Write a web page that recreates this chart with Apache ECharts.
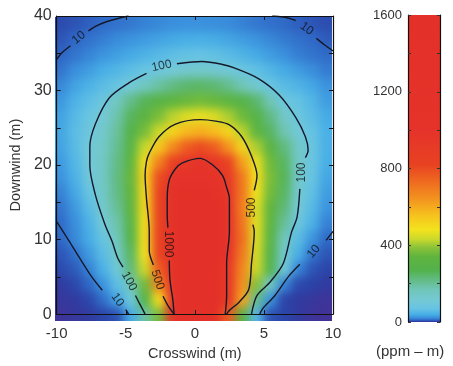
<!DOCTYPE html>
<html>
<head>
<meta charset="utf-8">
<script src="https://cdn.jsdelivr.net/npm/echarts@6/dist/echarts.min.js"></script>
<style>
html,body{margin:0;padding:0;background:#fff;overflow:hidden;}
#wrap{position:relative;width:453px;height:366px;}
#clip{position:absolute;left:55px;top:17px;width:277px;height:304px;overflow:hidden;}
#heat{position:absolute;left:-25px;top:-25px;width:327px;height:354px;filter:blur(5px);}
#chart{position:absolute;left:0;top:0;width:453px;height:366px;}
</style>
</head>
<body>
<div id="wrap">
  <div id="clip"><div id="heat"></div></div>
  <div id="chart"></div>
</div>
<script>
// ---------------- DATA ----------------
const crosswind = [-9.5,-8.5,-7.5,-6.5,-5.5,-4.5,-3.5,-2.5,-1.5,-0.5,0.5,1.5,2.5,3.5,4.5,5.5,6.5,7.5,8.5,9.5];
const downwind = [1,3,5,7,9,11,13,15,17,19,21,23,25,27,29,31,33,35,37,39];
// concentration (ppm-m), rows = downwind (bottom to top), columns = crosswind
const conc = [
  [1.5,2,2.5,4,6,38,189,367,1050,1700,1900,1500,770,313,52,6,4,2.5,1.5,1.2],
  [2,2.5,4.5,12,34,95,270,490,1100,1700,1900,1600,935,613,211,25,4,2.5,2,1.5],
  [2.5,4.5,10,25,63,170,360,673,1150,1700,1900,1700,941,647,382,147,19,5,3.5,2.5],
  [5,8,18,43,100,230,440,760,1200,1800,2000,1800,944,667,433,267,100,19,7,4],
  [7,13,28,60,140,250,480,821,1250,1800,2000,1800,1000,697,445,280,131,42,14,7],
  [10,20,39,76,160,270,490,840,1250,1800,2000,1800,1030,719,456,300,159,60,26,11],
  [11,22,45,110,180,290,485,821,1250,1800,2000,1800,1000,706,461,325,200,90,45,18],
  [14,28,58,130,200,320,500,833,1250,1700,1900,1700,1000,688,456,340,230,110,55,25],
  [18,36,75,140,215,340,505,828,1200,1500,1600,1450,950,700,478,360,250,125,65,30],
  [24,45,98,145,220,345,520,797,1030,1120,1150,1090,913,696,489,370,260,135,75,35],
  [29,52,105,145,215,330,495,680,850,955,990,950,820,620,470,355,250,140,80,40],
  [33,58,102,140,205,295,430,540,660,760,800,760,640,510,410,315,225,140,80,42],
  [35,60,92,130,195,280,365,435,515,570,590,565,510,420,330,250,175,105,70,42],
  [33,55,80,115,180,255,320,370,420,455,470,450,410,355,290,220,140,90,60,38],
  [27,45,62,88,150,215,260,300,330,350,360,350,325,290,240,170,90,68,50,30],
  [20,33,45,60,78,110,150,190,220,240,245,235,210,170,120,80,58,48,36,24],
  [14,22,30,40,50,62,75,92,110,125,130,122,105,85,65,50,38,30,22,16],
  [9.5,14,19,25,31,38,46,55,63,68,70,66,58,48,38,30,23,17,14,11],
  [7,10,13,17,21,25,29,33,37,40,41,39,35,30,25,20,16,13,10.5,8],
  [5,6.5,8.5,10.5,13,15,18,20,22,23,23,22,21,18,15,12.5,10.5,8.5,7,5.5]
];
// contour lines (segments, broken where labels sit)
const contour10 = [
  [[-10,34.2],[-9.6,35.1],[-9.0,36.0]],
  [[-7.7,38.0],[-7.2,38.6],[-6.3,39.3],[-4.8,40]],
  [[5.6,40],[6.6,39.8],[7.3,39.4]],
  [[8.8,37.0],[9.4,36.1],[10,35.3]],
  [[-10,12.4],[-9.1,9.8],[-8.4,7.7],[-7.5,5.1],[-6.7,3.2]],
  [[-5.0,0.6],[-4.8,0]],
  [[4.7,0],[4.9,0.7],[5.8,2.5],[6.8,5.1],[7.6,6.7]],
  [[9.5,9.9],[10,11.1]]
];
const contour100 = [
  [[-3.6,0],[-4.0,1.4],[-4.3,2.5]],
  [[-5.2,6.3],[-5.6,7.6],[-6.0,9.8],[-6.5,12],[-7.2,16],[-7.6,19.9],[-7.6,22.5],[-7.2,25.5],[-6.2,29],[-4.8,31],[-3.5,32.3]],
  [[-1.3,33.6],[0.5,33.9],[2.0,33.5],[2.9,33],[4.6,31.6],[6.1,29.4],[7.3,26.4],[8.0,23.8],[8.2,22],[8.0,21.0]],
  [[7.6,16.8],[7.4,13],[7.0,11],[6.4,6.8],[5.4,4.2],[4.5,2.5],[4.1,0]]
];
const contour500 = [
  [[-1.5,0],[-1.9,1.0],[-2.3,2.4]],
  [[-3.0,6.6],[-3.3,8.5],[-3.3,11.1],[-3.5,15.5],[-3.6,18.6],[-3.5,20.5],[-3.3,21.6],[-2.6,23.8],[-1.4,25.5],[0.4,26.1],[1.5,25.9],[2.5,25.4],[3.4,23.8],[4.1,21.2],[4.5,18.6],[4.3,16.6]],
  [[4.2,12.0],[4.3,11.1],[4.1,6.8],[3.9,3.3],[3.2,1.6],[2.5,0.5],[2.3,0]]
];
const contour1000 = [
  [[-1.5,0],[-1.6,2],[-1.8,4.6],[-1.85,7.2]],
  [[-1.95,11.6],[-2.0,13.3],[-2.0,15.5],[-1.85,18.0],[-1.4,19.5],[-0.9,20.3],[0.4,20.9],[1.3,20.0],[2.0,18.6],[2.3,17.0],[2.5,15.5],[2.5,11],[2.3,6.8],[2.3,2.5],[2.2,0]]
];
// contour labels: [x, y, text, angle]
const contourLabels = [
  [-8.4,37.1,'10',40],
  [8.1,38.3,'10',-35],
  [-5.6,1.9,'10',-55],
  [8.6,8.4,'10',50],
  [-2.4,33.3,'100',12],
  [-4.75,4.4,'100',-62],
  [7.75,19.0,'100',90],
  [-2.7,4.6,'500',-72],
  [4.1,14.3,'500',90],
  [-1.9,9.4,'1000',-90]
];
const xTicks = [-10, 10, 5];   // min, max, step
const yTicks = [0, 40, 5];
const cbarTicks = [0, 1600, 200];

// ---------------- STYLE ----------------
const FONT = '"Liberation Sans", Arial, Helvetica, sans-serif';
const colorStops = [
  [0,'#50298e'],[3,'#2b3fa4'],[10,'#2f68c6'],[22,'#3a8fdc'],[40,'#48afe6'],
  [70,'#66c3e3'],[110,'#74c9d6'],[170,'#70c6b8'],[220,'#62bb84'],[270,'#53b24c'],
  [340,'#5fb43e'],[390,'#8cc338'],[430,'#c8d82c'],[480,'#f2e31e'],[550,'#f6c51e'],
  [640,'#f3941f'],[740,'#ee6620'],[820,'#e84222'],[1000,'#e5332a'],[1600,'#e33028']
];
function hex2rgb(h){return [parseInt(h.substr(1,2),16),parseInt(h.substr(3,2),16),parseInt(h.substr(5,2),16)];}
const stopRGB = colorStops.map(s=>[s[0],hex2rgb(s[1])]);
function colorFor(v){
  if (v <= stopRGB[0][0]) return colorStops[0][1];
  for (let i=1;i<stopRGB.length;i++){
    if (v <= stopRGB[i][0]){
      const a=stopRGB[i-1], b=stopRGB[i];
      const t=(v-a[0])/(b[0]-a[0]);
      const c=a[1].map((ch,k)=>Math.round(ch+(b[1][k]-ch)*t));
      return 'rgb('+c.join(',')+')';
    }
  }
  return colorStops[colorStops.length-1][1];
}

const cellData = [];
downwind.forEach((y,i)=>crosswind.forEach((x,j)=>cellData.push([x,y,conc[i][j]])));
const halfX = (crosswind[1]-crosswind[0])/2;
const halfY = (downwind[1]-downwind[0])/2;
const xFirst = crosswind[0], xLast = crosswind[crosswind.length-1];
const yFirst = downwind[0], yLast = downwind[downwind.length-1];

// ---------- heat layer (soft shading, same scales as the plot) ----------
const PAD = 24;
const heat = echarts.init(document.getElementById('heat'), null, {renderer:'canvas'});
heat.setOption({
  animation:false,
  grid:{left:PAD, top:PAD, width:279, height:306},
  xAxis:{type:'value', min:xTicks[0], max:xTicks[1], show:false},
  yAxis:{type:'value', min:yTicks[0], max:yTicks[1], show:false},
  series:[{
    type:'custom', silent:true, clip:false, data:cellData,
    renderItem:function(params, api){
      const x=api.value(0), y=api.value(1), v=api.value(2);
      const p0=api.coord([x-halfX,y-halfY]);
      const p1=api.coord([x+halfX,y+halfY]);
      let l=p0[0], r=p1[0], t=p1[1], b=p0[1];
      if (x===xFirst) l-=PAD; if (x===xLast) r+=PAD;
      if (y===yFirst) b+=PAD; if (y===yLast) t-=PAD;
      return {type:'rect', shape:{x:l, y:t, width:r-l+0.7, height:b-t+0.7}, style:{fill:colorFor(v)}};
    }
  }]
});

// ---------- main chart ----------
const chart = echarts.init(document.getElementById('chart'), null, {renderer:'canvas'});
const lineColor = '#15192a';
const series = [];
[contour10, contour100, contour500, contour1000].forEach(c=>{
  c.forEach(seg=>{
    series.push({type:'line', xAxisIndex:0, yAxisIndex:0, z:3, silent:true, data:seg,
      symbol:'none', smooth:0.3, lineStyle:{color:lineColor, width:1.4}});
  });
});
series.push({
  type:'scatter', xAxisIndex:0, yAxisIndex:0, z:4, silent:true, symbolSize:0,
  data: contourLabels.map(l=>({value:[l[0],l[1]], label:{show:true, formatter:l[2], rotate:l[3], position:'inside'}})),
  label:{color:'#111', fontSize:12, fontFamily:FONT}
});
// colorbar
series.push({
  type:'custom', xAxisIndex:2, yAxisIndex:2, z:1, silent:true,
  data:[[1, cbarTicks[1]]],
  renderItem: function(params, api){
    const p0=api.coord([0,cbarTicks[0]]);
    const p1=api.coord([api.value(0), api.value(1)]);
    return {type:'rect', shape:{x:p0[0], y:p1[1], width:p1[0]-p0[0], height:p0[1]-p1[1]},
      style:{fill:new echarts.graphic.LinearGradient(0,1,0,0,
        colorStops.map(s=>({offset:s[0]/cbarTicks[1], color:s[1]})))}};
  }
});

const axisLineStyle = {color:'#111', width:1.2};
const option = {
  animation:false,
  backgroundColor:'transparent',
  grid:[
    {left:54, top:16, width:279, height:306},
    {left:408, top:15, width:32, height:307}
  ],
  xAxis:[
    {gridIndex:0, type:'value', min:xTicks[0], max:xTicks[1], interval:xTicks[2], position:'bottom', z:10,
     axisLine:{show:true, onZero:false, lineStyle:axisLineStyle},
     axisTick:{show:true, inside:true, length:4, lineStyle:{color:'#111'}},
     axisLabel:{fontSize:15, color:'#333', margin:12, fontFamily:FONT},
     splitLine:{show:false},
     name:'Crosswind (m)', nameLocation:'middle', nameGap:29,
     nameTextStyle:{fontSize:14.5, color:'#333', fontFamily:FONT}},
    {gridIndex:0, type:'value', min:xTicks[0], max:xTicks[1], interval:xTicks[2], position:'top', z:10,
     axisLine:{show:true, onZero:false, lineStyle:axisLineStyle},
     axisTick:{show:true, inside:true, length:4, lineStyle:{color:'#111'}},
     axisLabel:{show:false}, splitLine:{show:false}},
    {gridIndex:1, type:'value', min:0, max:1, show:false}
  ],
  yAxis:[
    {gridIndex:0, type:'value', min:yTicks[0], max:yTicks[1], interval:yTicks[2], position:'left', z:10,
     axisLine:{show:true, onZero:false, lineStyle:axisLineStyle},
     axisTick:{show:true, inside:true, length:4, lineStyle:{color:'#111'}},
     axisLabel:{fontSize:16, color:'#333', margin:5, fontFamily:FONT, formatter:v=>(v%10===0?String(v):'')},
     splitLine:{show:false},
     name:'Downwind (m)', nameLocation:'middle', nameGap:32, nameRotate:90,
     nameTextStyle:{fontSize:14.5, color:'#333', fontFamily:FONT}},
    {gridIndex:0, type:'value', min:yTicks[0], max:yTicks[1], interval:yTicks[2], position:'right', z:10,
     axisLine:{show:true, onZero:false, lineStyle:axisLineStyle},
     axisTick:{show:true, inside:true, length:4, lineStyle:{color:'#111'}},
     axisLabel:{show:false}, splitLine:{show:false}},
    {gridIndex:1, type:'value', min:cbarTicks[0], max:cbarTicks[1], interval:cbarTicks[2], position:'left', z:10,
     axisLine:{show:true, lineStyle:axisLineStyle},
     axisTick:{show:true, inside:true, length:3, lineStyle:{color:'#333'}},
     axisLabel:{fontSize:13, color:'#333', margin:6, fontFamily:FONT, formatter:v=>(v%400===0?String(v):'')},
     splitLine:{show:false}},
    {gridIndex:1, type:'value', min:cbarTicks[0], max:cbarTicks[1], interval:cbarTicks[2], position:'right', z:10,
     axisLine:{show:true, lineStyle:axisLineStyle},
     axisTick:{show:true, inside:true, length:3, lineStyle:{color:'#333'}},
     axisLabel:{show:false}, splitLine:{show:false}}
  ],
  graphic:[
    {type:'text', left:376, top:344, silent:true,
     style:{text:'(ppm – m)', fontSize:15, fill:'#333', fontFamily:FONT}}
  ],
  series: series
};
chart.setOption(option);
</script>
</body>
</html>
